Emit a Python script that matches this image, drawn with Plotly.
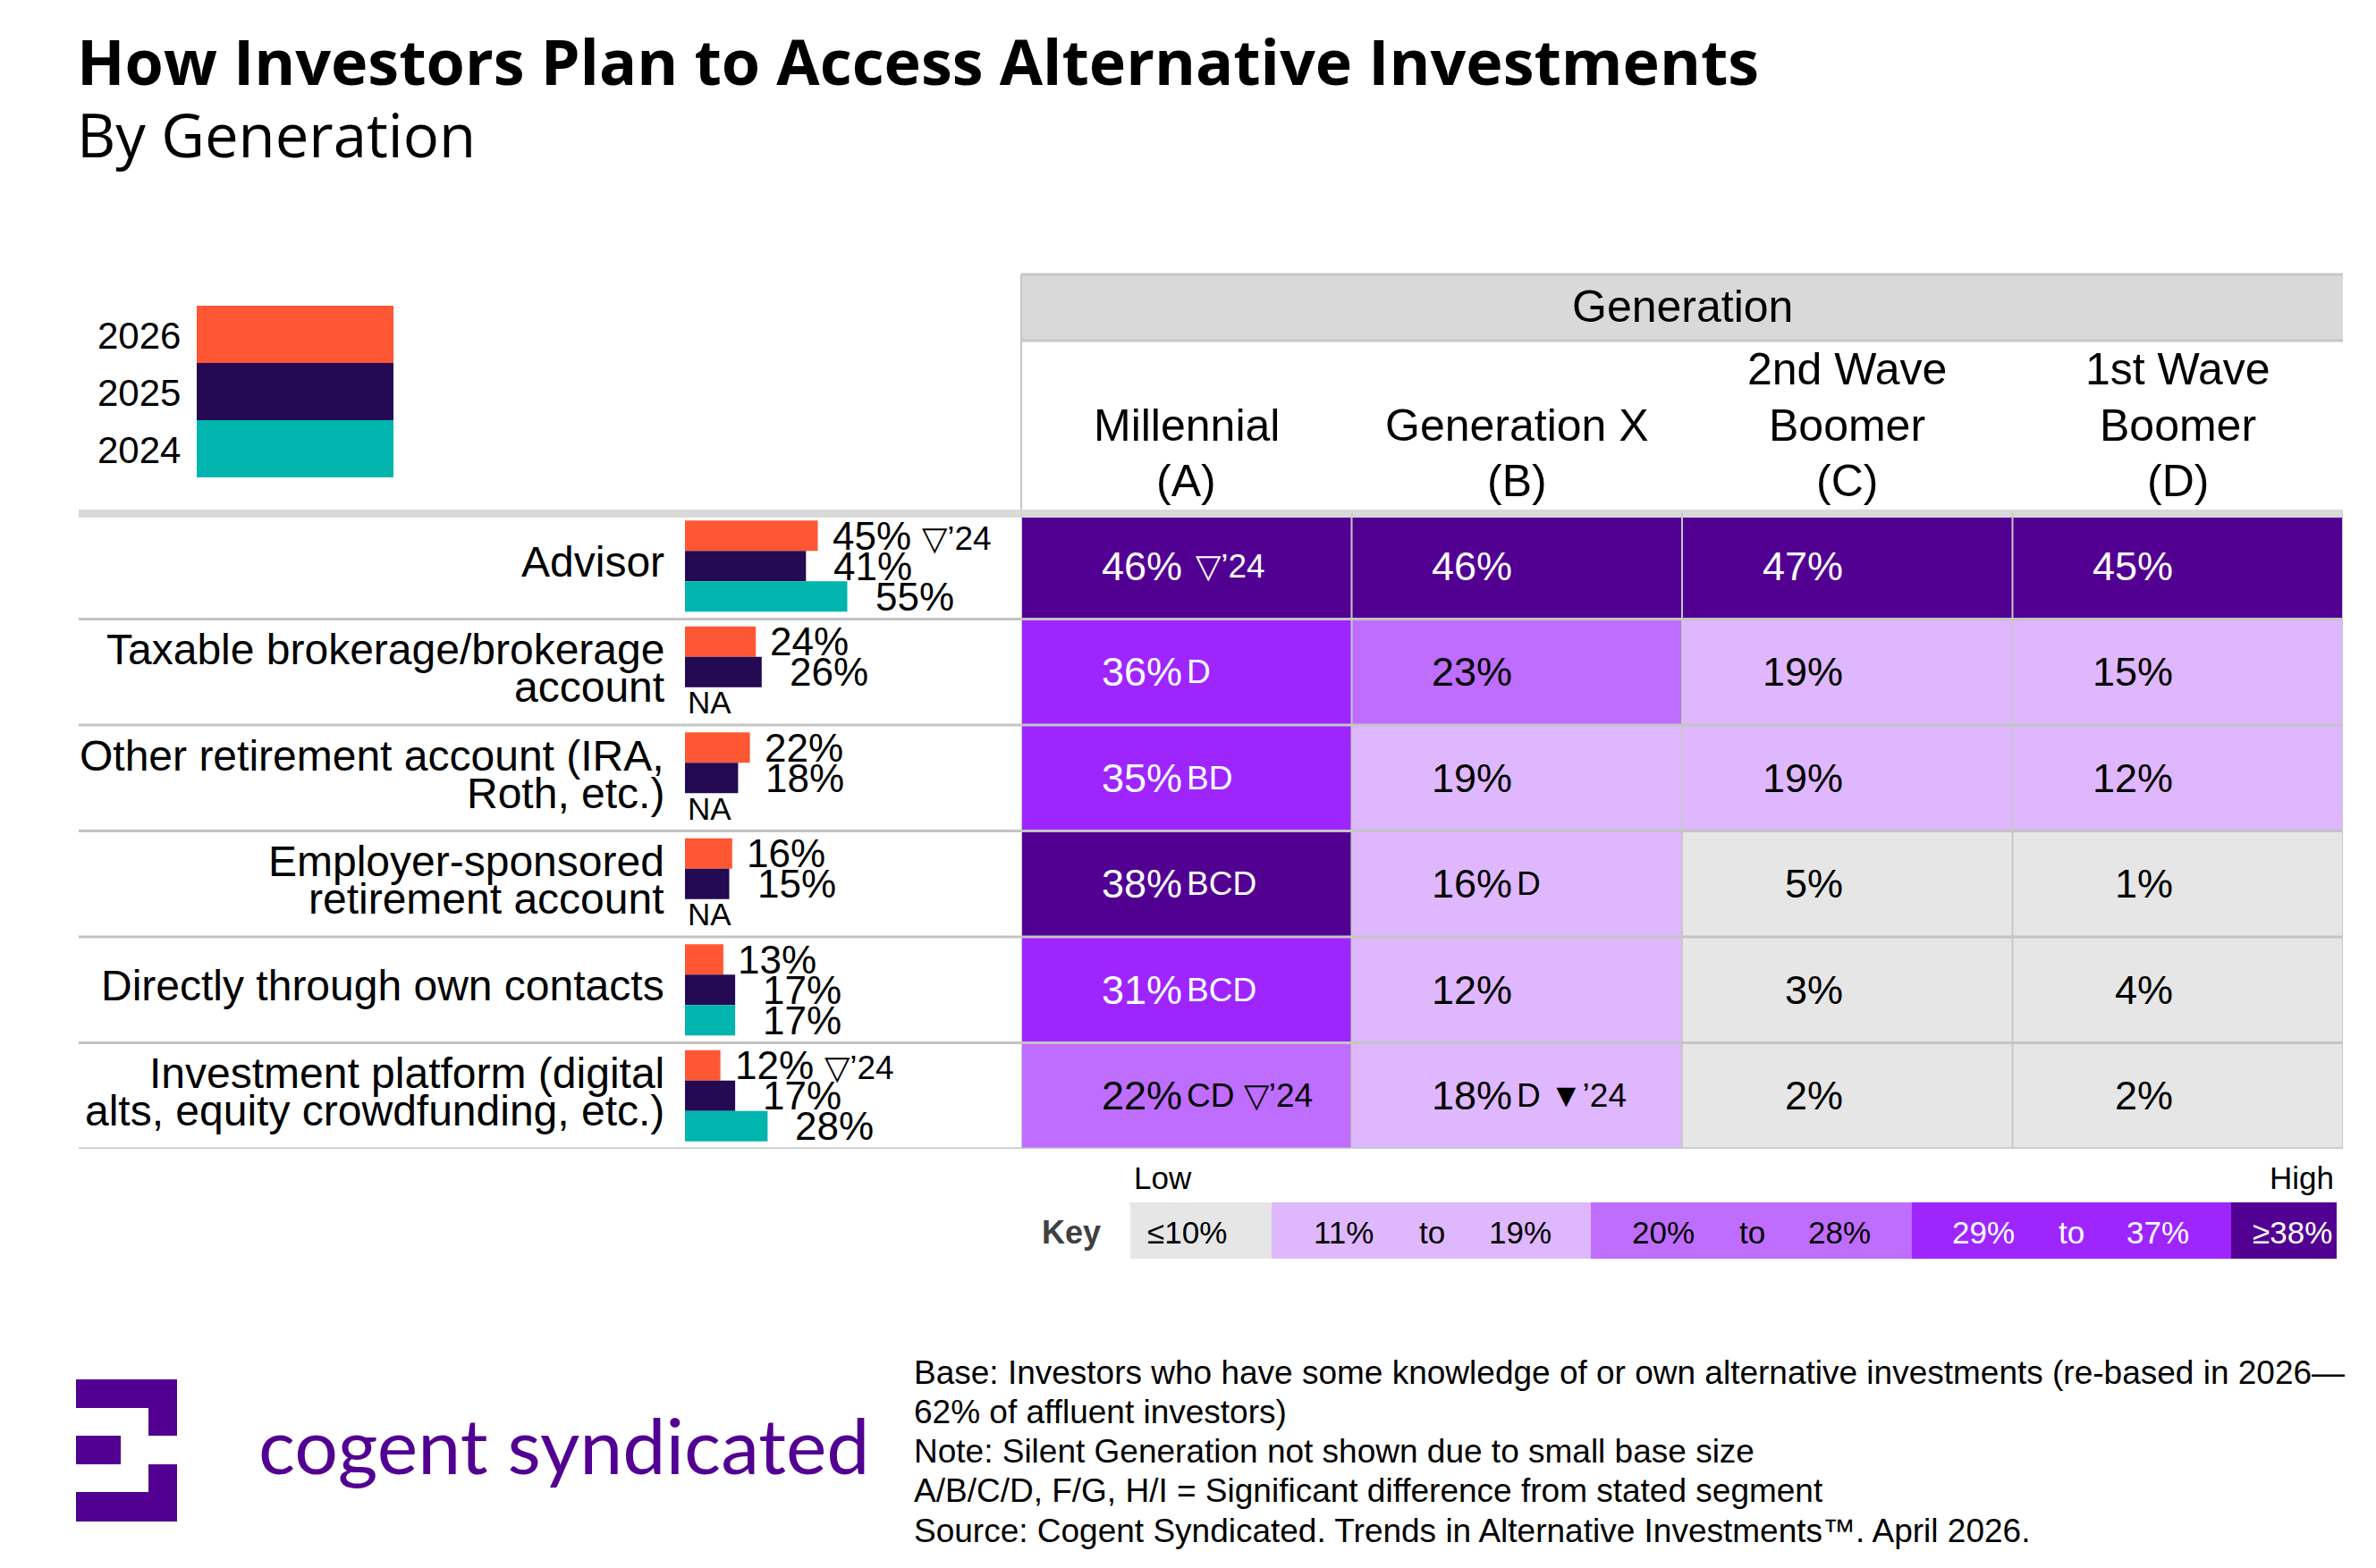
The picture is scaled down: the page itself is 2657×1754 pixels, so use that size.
import plotly.graph_objects as go

W, H = 2657, 1754

def px(x):
    return x / W

def py(y):
    return 1 - y / H

# ---------------- data ----------------
row_keys = ["Advisor", "Taxable", "OtherRet", "Employer", "Direct", "Platform"]
row_label_lines = [
    ["Advisor"],
    ["Taxable brokerage/brokerage", "account"],
    ["Other retirement account (IRA,", "Roth, etc.)"],
    ["Employer-sponsored", "retirement account"],
    ["Directly through own contacts"],
    ["Investment platform (digital", "alts, equity crowdfunding, etc.)"],
]
years = ["2026", "2025", "2024"]
vals_2026 = [45, 24, 22, 16, 13, 12]
vals_2025 = [41, 26, 18, 15, 17, 17]
vals_2024 = [55, None, None, None, 17, 28]
bar_suffix_2026 = ["▽’24", "", "", "", "", "▽’24"]

col_keys = ["A", "B", "C", "D"]
col_header_lines = [
    ["Millennial", "(A)"],
    ["Generation X", "(B)"],
    ["2nd Wave", "Boomer", "(C)"],
    ["1st Wave", "Boomer", "(D)"],
]
gen_values = [
    [46, 46, 47, 45],
    [36, 23, 19, 15],
    [35, 19, 19, 12],
    [38, 16, 5, 1],
    [31, 12, 3, 4],
    [22, 18, 2, 2],
]
gen_suffix = [
    ["\u00a0▽’24", "", "", ""],
    ["D", "", "", ""],
    ["BD", "", "", ""],
    ["BCD", "D", "", ""],
    ["BCD", "", "", ""],
    ["CD ▽’24", "D ▼’24", "", ""],
]
key_labels = ["≤10%", "11%", "to", "19%", "20%", "to", "28%", "29%", "to", "37%", "≥38%"]

footer_lines = [
    "Base: Investors who have some knowledge of or own alternative investments (re-based in 2026—",
    "62% of affluent investors)",
    "Note: Silent Generation not shown due to small base size",
    "A/B/C/D, F/G, H/I = Significant difference from stated segment",
    "Source: Cogent Syndicated. Trends in Alternative Investments™. April 2026.",
]

# ---------------- styles ----------------
C_2026, C_2025, C_2024 = "#FF5733", "#230A52", "#00B5AD"
C_GRAY, C_LIGHT, C_MED, C_BRIGHT, C_DARK = "#E6E6E6", "#DFB7FF", "#BF6DFF", "#9F25FF", "#520092"
LINE_C = "#C6C6C6"
FONT = "Liberation Sans, Arial, sans-serif"
TFONT = "Open Sans, sans-serif"
LFONT = "Lato, sans-serif"

def cell_text_color(v):
    return "white" if v >= 29 else "black"

colorscale = [
    [0.0, C_GRAY], [0.105, C_GRAY],
    [0.105, C_LIGHT], [0.195, C_LIGHT],
    [0.195, C_MED], [0.285, C_MED],
    [0.285, C_BRIGHT], [0.375, C_BRIGHT],
    [0.375, C_DARK], [1.0, C_DARK],
]

fig = go.Figure()

bar_colors = [C_2026, C_2025, C_2024]
for yr, vals, col in zip(years, [vals_2026, vals_2025, vals_2024], bar_colors):
    fig.add_trace(go.Bar(
        x=vals, y=row_keys, orientation="h", name=yr,
        marker=dict(color=col, line=dict(width=0)),
        xaxis="x", yaxis="y", showlegend=False, hoverinfo="x+y",
    ))

fig.add_trace(go.Heatmap(
    z=gen_values, x=col_keys, y=row_keys, xaxis="x2", yaxis="y",
    colorscale=colorscale, zmin=0, zmax=100, showscale=False,
    hoverinfo="z",
))

TABLE_L, TABLE_R = 1142, 2620
ROW_TOP, ROW_BOT = 574, 1285

fig.update_layout(
    width=W, height=H,
    margin=dict(l=0, r=0, t=0, b=0),
    paper_bgcolor="white", plot_bgcolor="rgba(0,0,0,0)",
    barmode="group", bargap=0.139, bargroupgap=0,
    xaxis=dict(domain=[px(766), px(1096)], range=[0, 100], visible=False, fixedrange=True),
    yaxis=dict(domain=[py(ROW_BOT), py(ROW_TOP)], type="category", categoryarray=row_keys,
               range=[5.5, -0.5], visible=False, fixedrange=True),
    xaxis2=dict(domain=[px(TABLE_L), px(TABLE_R)], type="category", categoryarray=col_keys,
                range=[-0.5, 3.5], visible=False, anchor="y", fixedrange=True),
    font=dict(family=FONT, color="black"),
)

shapes = []
ann = []

# header band
shapes.append(dict(type="rect", xref="paper", yref="paper", x0=px(TABLE_L), x1=px(TABLE_R),
                   y0=py(381), y1=py(307), fillcolor="#D9D9D9", line=dict(width=0), layer="below"))
for yy in (307, 381):
    shapes.append(dict(type="line", xref="paper", yref="paper", x0=px(TABLE_L), x1=px(TABLE_R),
                       y0=py(yy), y1=py(yy), line=dict(color=LINE_C, width=3)))
shapes.append(dict(type="line", xref="paper", yref="paper", x0=px(TABLE_L), x1=px(TABLE_L),
                   y0=py(570), y1=py(307), line=dict(color=LINE_C, width=2)))
# thick line under headers
shapes.append(dict(type="rect", xref="paper", yref="paper", x0=px(88), x1=px(TABLE_R),
                   y0=py(579), y1=py(570), fillcolor="#D9D9D9", line=dict(width=0)))
# row separators
for i in range(1, len(row_keys) + 1):
    shapes.append(dict(type="line", xref="paper", yref="y", x0=px(88), x1=px(TABLE_R),
                       y0=i - 0.5, y1=i - 0.5, line=dict(color="#C3C3C3", width=3)))
# column separators
for j in range(len(col_keys) + 1):
    shapes.append(dict(type="line", xref="x2", yref="y", x0=j - 0.5, x1=j - 0.5,
                       y0=-0.5, y1=len(row_keys) - 0.5, line=dict(color="#C8C8C8", width=2)))

# legend boxes
for k, (yr, col) in enumerate(zip(years, bar_colors)):
    y0 = 342 + k * 64
    shapes.append(dict(type="rect", xref="paper", yref="paper", x0=px(220), x1=px(440),
                       y0=py(y0 + 64), y1=py(y0), fillcolor=col, line=dict(width=0)))
    ann.append(dict(text=yr, xref="paper", yref="paper", x=px(204), y=py(y0 + 33),
                    xanchor="right", yanchor="middle", showarrow=False, font=dict(size=42)))

# title
ann.append(dict(text="<b>How Investors Plan to Access Alternative Investments</b>", xref="paper", yref="paper",
                x=px(84), y=py(68), xanchor="left", yanchor="middle", showarrow=False,
                font=dict(family=TFONT, size=70, color="black")))
ann.append(dict(text="By Generation", xref="paper", yref="paper",
                x=px(84), y=py(150), xanchor="left", yanchor="middle", showarrow=False,
                font=dict(family=TFONT, size=67, color="black")))

# Generation header
ann.append(dict(text="Generation", xref="paper", yref="paper", x=px((TABLE_L + TABLE_R) / 2), y=py(343),
                xanchor="center", yanchor="middle", showarrow=False, font=dict(size=50)))
for j, lines in enumerate(col_header_lines):
    n = len(lines)
    for k, line in enumerate(lines):
        yc = 538 - (n - 1 - k) * 62.5
        ann.append(dict(text=line, xref="x2", yref="paper", x=col_keys[j], y=py(yc),
                        xanchor="center", yanchor="middle", showarrow=False, font=dict(size=50)))

# row labels
for i, lines in enumerate(row_label_lines):
    shifts = [5] if len(lines) == 1 else [25, -17]
    for line, sh in zip(lines, shifts):
        ann.append(dict(text=line, xref="paper", yref="y", x=px(745), y=row_keys[i], yshift=sh,
                        xanchor="right", yanchor="middle", showarrow=False, font=dict(size=48)))

# bar labels
offsets_y = [34, 0, -34]
offsets_x = [14, 29, 29]
for t, vals in enumerate([vals_2026, vals_2025, vals_2024]):
    for i, v in enumerate(vals):
        if v is None:
            ann.append(dict(text="NA", xref="x", yref="y", x=0, y=row_keys[i], xshift=1,
                            yshift=offsets_y[t], xanchor="left", yanchor="middle", showarrow=False,
                            font=dict(size=35)))
            continue
        txt = f"{v}%"
        if t == 0 and bar_suffix_2026[i]:
            txt += f" <span style='font-size:37px'>{bar_suffix_2026[i]}</span>"
        ann.append(dict(text=txt, xref="x", yref="y", x=v, y=row_keys[i], xshift=offsets_x[t],
                        yshift=offsets_y[t], xanchor="left", yanchor="middle", showarrow=False,
                        font=dict(size=44)))

# cell values
for i, rowv in enumerate(gen_values):
    for j, v in enumerate(rowv):
        c = cell_text_color(v)
        ann.append(dict(text=f"{v}%", xref="x2", yref="y", x=col_keys[j], y=row_keys[i], xshift=-3,
                        xanchor="right", yanchor="middle", showarrow=False, font=dict(size=45, color=c)))
        if gen_suffix[i][j]:
            ann.append(dict(text=gen_suffix[i][j], xref="x2", yref="y", x=col_keys[j], y=row_keys[i],
                            xshift=-2, xanchor="left", yanchor="middle", showarrow=False,
                            font=dict(size=37, color=c)))

# key
key_edges = [1264, 1422, 1779, 2138, 2495, 2613]
key_colors = [C_GRAY, C_LIGHT, C_MED, C_BRIGHT, C_DARK]
for k in range(5):
    shapes.append(dict(type="rect", xref="paper", yref="paper", x0=px(key_edges[k]), x1=px(key_edges[k + 1]),
                       y0=py(1408), y1=py(1345), fillcolor=key_colors[k], line=dict(width=0)))
key_pos = [1281, 1502, 1601, 1700, 1860, 1959, 2057, 2218, 2316, 2413, 2563]
key_col = ["black"] * 7 + ["white"] * 4
for k, (lab, xp, kc) in enumerate(zip(key_labels, key_pos, key_col)):
    ann.append(dict(text=lab, xref="paper", yref="paper", x=px(xp), y=py(1378),
                    xanchor="left" if k == 0 else "center", yanchor="middle", showarrow=False,
                    font=dict(size=35, color=kc)))
ann.append(dict(text="<b>Key</b>", xref="paper", yref="paper", x=px(1198), y=py(1378),
                xanchor="center", yanchor="middle", showarrow=False, font=dict(size=36, color="#404040")))
ann.append(dict(text="Low", xref="paper", yref="paper", x=px(1266), y=py(1317),
                xanchor="left", yanchor="middle", showarrow=False, font=dict(size=35)))
ann.append(dict(text="High", xref="paper", yref="paper", x=px(2612), y=py(1317),
                xanchor="right", yanchor="middle", showarrow=False, font=dict(size=35)))

# footer
for k, line in enumerate(footer_lines):
    ann.append(dict(text=line, xref="paper", yref="paper", x=px(1020), y=py(1535 + k * 44.3),
                    xanchor="left", yanchor="middle", showarrow=False, font=dict(size=37)))

# logo
logo_rects = [(85, 198, 1543, 1575), (166, 198, 1575, 1606), (85, 135, 1606, 1638),
              (166, 198, 1638, 1669), (85, 198, 1669, 1702)]
for x0, x1, y0, y1 in logo_rects:
    shapes.append(dict(type="rect", xref="paper", yref="paper", x0=px(x0), x1=px(x1),
                       y0=py(y1), y1=py(y0), fillcolor=C_DARK, line=dict(width=0)))
ann.append(dict(text="cogent syndicated", xref="paper", yref="paper", x=px(287), y=py(1615),
                xanchor="left", yanchor="middle", showarrow=False,
                font=dict(family=LFONT, size=86, color=C_DARK)))

fig.update_layout(shapes=shapes, annotations=ann)
fig.write_html("out.html", config={"displayModeBar": False},
               post_script="document.body.style.margin='0px';")
